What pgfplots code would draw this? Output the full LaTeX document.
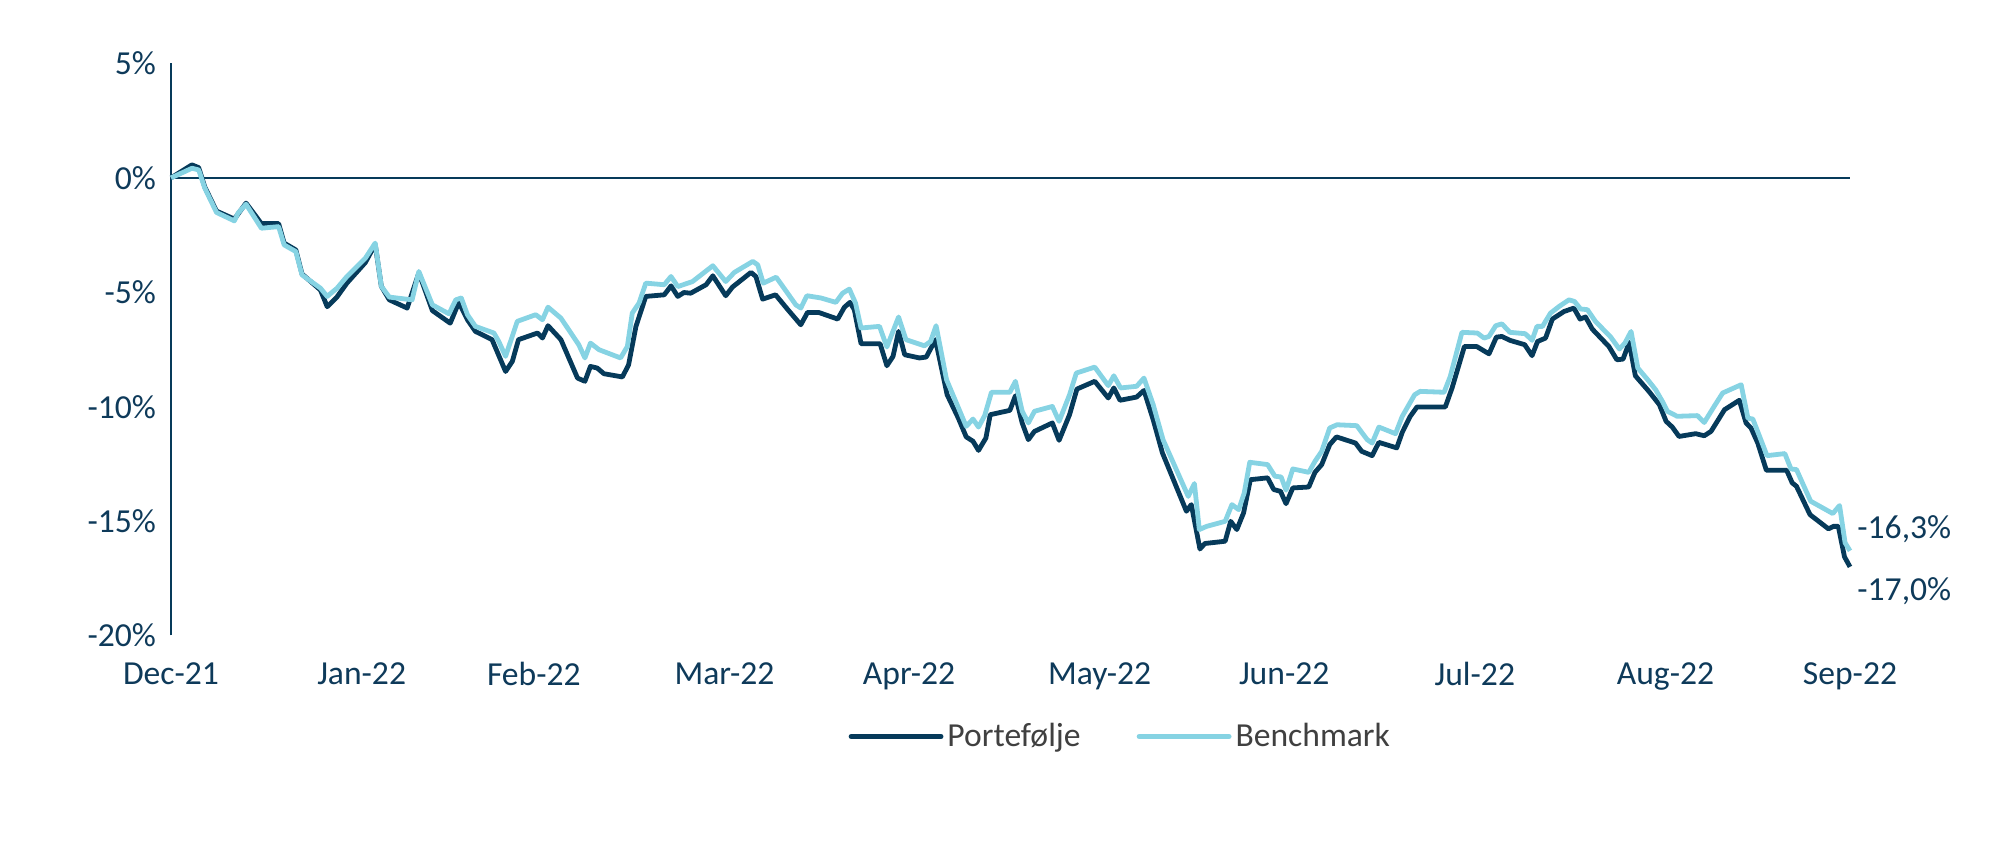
\documentclass[border=0pt]{standalone}
\usepackage{pgfplots}
\pgfplotsset{compat=1.18}
\usepackage{fontspec}
\setmainfont{Carlito}
\definecolor{navy}{HTML}{063A5A}
\definecolor{lightb}{HTML}{86D3E3}
\definecolor{txt}{HTML}{0E3A5A}
\definecolor{legtxt}{HTML}{404040}
\begin{document}
\begin{tikzpicture}
\useasboundingbox (-85.5pt,-104pt) rectangle (921.5pt,317.75pt);
\begin{axis}[
  scale only axis, width=839.5pt, height=286pt,
  xmin=0, xmax=273, ymin=-20, ymax=5,
  axis lines=left,
  axis line style={-},
  x axis line style={draw=none},
  y axis line style={draw=navy, line width=0.8pt},
  major tick length=0pt,
  xtick={0,31,59,90,120,151,181,212,243,273},
  xticklabels={Dec-21,Jan-22,Feb-22,Mar-22,Apr-22,May-22,Jun-22,Jul-22,Aug-22,Sep-22},
  ytick={-20,-15,-10,-5,0,5},
  yticklabels={-20\%,-15\%,-10\%,-5\%,0\%,5\%},
  tick label style={font=\fontsize{16.8}{20}\selectfont, text=txt},
  yticklabel style={xshift=-4pt},
  xticklabel style={yshift=-10pt},
  legend style={at={(rel axis cs:0.566,-0.1766)}, anchor=center, draw=none, fill=none,
    legend columns=2, font=\fontsize{16.8}{20}\selectfont, text=legtxt,
    /tikz/every even column/.append style={column sep=26pt}},
  legend image code/.code={\draw[#1, line width=2.4pt, line cap=round] (0pt,0pt) -- (45pt,0pt);},
  clip=false,
]
\addplot[navy, line width=1pt, forget plot] coordinates {(0,0) (273,0)};
\addplot[navy, line width=2.4pt, line join=round] coordinates {
(0,0) (3.4,0.57) (4.5,0.45) (5.5,-0.4) (7.4,-1.45) (10.3,-1.8) (12.2,-1.1) (14.7,-2.0) (17.5,-2.0) (18.4,-2.85) (20.3,-3.15) (21.3,-4.2) (24.3,-4.9) (25.4,-5.63) (27,-5.2) (28.6,-4.6) (31.6,-3.7) (33.2,-2.9) (34.2,-4.74) (35.5,-5.33) (38.4,-5.69) (40.3,-4.15) (42.5,-5.8) (45.4,-6.35) (46.8,-5.44) (48.2,-6.2) (49.5,-6.71) (52.2,-7.07) (54.4,-8.46) (55.5,-8.02) (56.5,-7.07) (59.6,-6.78) (60.4,-7.0) (61.3,-6.46) (63.4,-7.07) (66.1,-8.75) (67.3,-8.89) (68.2,-8.24) (69.3,-8.31) (70.4,-8.56) (73.4,-8.7) (74.4,-8.17) (75.6,-6.49) (77.2,-5.18) (80.2,-5.11) (81.3,-4.72) (82.4,-5.18) (83.4,-5.01) (84.5,-5.04) (87.0,-4.67) (88.1,-4.28) (90.2,-5.15) (91.3,-4.77) (92.9,-4.43) (94.3,-4.13) (95.1,-4.31) (96.2,-5.3) (98.3,-5.11) (100.3,-5.76) (102.4,-6.42) (103.5,-5.88) (105.3,-5.88) (108.4,-6.17) (109.5,-5.65) (110.4,-5.44) (111.1,-5.76) (112.2,-7.25) (115.3,-7.25) (116.4,-8.21) (117.4,-7.8) (118.3,-6.71) (119.3,-7.73) (121.7,-7.87) (122.8,-7.83) (124.3,-7.07) (126.2,-9.48) (128.0,-10.49) (129.3,-11.32) (130.4,-11.51) (131.3,-11.91) (132.5,-11.37) (133.2,-10.35) (136.4,-10.16) (137.3,-9.52) (138.4,-10.71) (139.4,-11.44) (140.4,-11.08) (143.3,-10.71) (144.4,-11.47) (146.1,-10.35) (147.3,-9.23) (150.2,-8.89) (152.4,-9.62) (153.3,-9.18) (154.3,-9.72) (157.0,-9.58) (158.2,-9.29) (159.7,-10.57) (161.2,-12.02) (165.1,-14.57) (165.9,-14.28) (167.3,-16.22) (168.1,-15.98) (171.4,-15.88) (172.3,-15.01) (173.3,-15.37) (174.4,-14.64) (175.5,-13.19) (178.3,-13.11) (179.3,-13.62) (180.4,-13.7) (181.3,-14.24) (182.4,-13.55) (185.0,-13.51) (186.0,-12.87) (187.1,-12.53) (188.4,-11.66) (189.5,-11.32) (192.6,-11.59) (193.6,-11.95) (195.3,-12.14) (196.4,-11.56) (199.3,-11.8) (200.2,-11.12) (201.5,-10.42) (202.6,-10.01) (207.2,-10.01) (208.3,-9.18) (210.3,-7.37) (212.3,-7.37) (214.3,-7.69) (215.5,-6.96) (216.4,-6.93) (217.7,-7.1) (220.1,-7.29) (221.3,-7.77) (222.2,-7.15) (223.5,-7.0) (224.6,-6.17) (226.5,-5.84) (228.1,-5.69) (229.1,-6.17) (230.0,-6.08) (231.1,-6.61) (233.8,-7.37) (235.1,-7.95) (236.1,-7.92) (237.1,-7.19) (238.1,-8.65) (240.3,-9.33) (242.0,-9.91) (243.1,-10.64) (244.1,-10.89) (245.2,-11.3) (247.9,-11.18) (249.3,-11.27) (250.4,-11.08) (252.6,-10.13) (255.0,-9.72) (256.1,-10.71) (256.9,-10.93) (258.0,-11.59) (259.4,-12.78) (262.7,-12.78) (263.6,-13.33) (264.3,-13.48) (266.5,-14.72) (269.5,-15.34) (270.3,-15.23) (271.1,-15.23) (272.1,-16.56) (273,-17.0)
};
\addlegendentry{Portefølje}
\addplot[lightb, line width=2.4pt, line join=round] coordinates {
(0,0) (3.4,0.42) (4.5,0.35) (5.5,-0.45) (7.4,-1.51) (10.3,-1.88) (10.9,-1.54) (12.2,-1.15) (14.7,-2.2) (17.5,-2.13) (18.4,-2.93) (20.3,-3.22) (21.3,-4.24) (24.3,-4.82) (25.4,-5.18) (27,-4.82) (28.6,-4.31) (31.6,-3.51) (33.2,-2.85) (34.2,-4.74) (35.5,-5.21) (39.2,-5.33) (40.3,-4.09) (42.5,-5.55) (45.2,-5.94) (46.3,-5.33) (47.2,-5.25) (48.2,-5.98) (49.5,-6.49) (52.5,-6.78) (53.3,-7.15) (54.4,-7.8) (56.3,-6.27) (59.3,-5.98) (60.4,-6.2) (61.3,-5.65) (63.4,-6.13) (66.3,-7.29) (67.3,-7.87) (68.2,-7.22) (69.6,-7.51) (73.1,-7.87) (74.2,-7.37) (75.0,-5.91) (76.1,-5.47) (77.2,-4.6) (80.2,-4.67) (81.3,-4.31) (82.4,-4.75) (84.8,-4.53) (88.1,-3.84) (90.2,-4.53) (91.6,-4.13) (94.6,-3.65) (95.4,-3.8) (96.3,-4.6) (98.4,-4.34) (101.6,-5.55) (102.4,-5.69) (103.4,-5.15) (105.7,-5.25) (108.1,-5.44) (109.2,-5.04) (110.3,-4.86) (111.3,-5.47) (112.2,-6.56) (115.2,-6.49) (116.4,-7.39) (118.3,-6.08) (119.5,-7.07) (122.5,-7.34) (123.5,-7.15) (124.4,-6.46) (126.1,-8.82) (127.7,-9.84) (129.3,-10.86) (130.4,-10.54) (131.3,-10.89) (132.3,-10.39) (133.4,-9.37) (136.4,-9.37) (137.3,-8.89) (138.4,-10.2) (139.4,-10.71) (140.4,-10.2) (143.3,-9.99) (144.4,-10.64) (146.1,-9.48) (147.2,-8.53) (150.2,-8.27) (152.4,-9.08) (153.3,-8.65) (154.4,-9.18) (157.0,-9.11) (158.2,-8.75) (159.7,-9.91) (161.3,-11.44) (165.4,-13.92) (166.4,-13.36) (167.2,-15.37) (168.4,-15.23) (171.4,-15.01) (172.5,-14.28) (173.6,-14.5) (174.5,-13.77) (175.4,-12.43) (178.3,-12.53) (179.5,-13.04) (180.5,-13.07) (181.3,-13.65) (182.4,-12.72) (185.0,-12.87) (186.0,-12.39) (187.1,-11.95) (188.4,-10.93) (189.6,-10.79) (192.8,-10.83) (194.5,-11.44) (195.3,-11.59) (196.4,-10.89) (199.1,-11.18) (200.2,-10.42) (202.2,-9.48) (203.1,-9.33) (207.0,-9.37) (208.0,-8.68) (209.9,-6.75) (212.4,-6.78) (213.5,-7.0) (214.3,-6.93) (215.4,-6.46) (216.4,-6.38) (217.7,-6.75) (220.2,-6.81) (221.3,-7.1) (222.1,-6.49) (223.0,-6.49) (224.3,-5.91) (225.7,-5.62) (227.3,-5.33) (228.2,-5.4) (229.2,-5.73) (230.3,-5.76) (231.6,-6.27) (234.1,-6.96) (235.5,-7.48) (236.4,-7.22) (237.4,-6.71) (238.5,-8.31) (240.1,-8.82) (241.4,-9.26) (242.5,-9.77) (243.3,-10.2) (244.9,-10.42) (248.2,-10.39) (249.3,-10.69) (250.9,-9.99) (252.3,-9.4) (255.3,-9.04) (256.4,-10.5) (257.2,-10.54) (258.3,-11.3) (259.5,-12.14) (262.4,-12.05) (263.4,-12.72) (264.3,-12.75) (266.6,-14.13) (270.2,-14.67) (271.3,-14.32) (272.2,-15.95) (273,-16.3)
};
\addlegendentry{Benchmark}
\node[anchor=west, inner sep=0pt, text=txt, font=\fontsize{16.8}{20}\selectfont] at (axis cs:273,-15.37) {\hspace{3.5pt}-16,3\%};
\node[anchor=west, inner sep=0pt, text=txt, font=\fontsize{16.8}{20}\selectfont] at (axis cs:273,-18.08) {\hspace{3.5pt}-17,0\%};
\end{axis}
\end{tikzpicture}
\end{document}
